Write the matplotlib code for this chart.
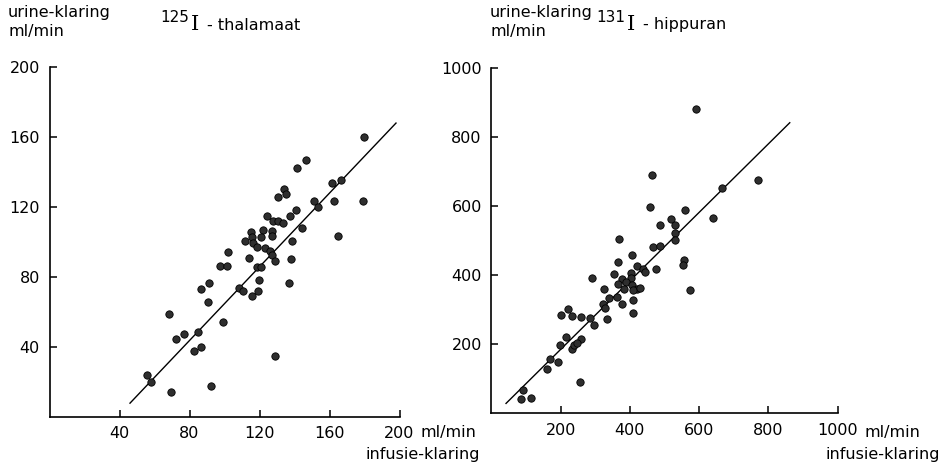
import matplotlib
matplotlib.use('Agg')
import matplotlib.pyplot as plt
import numpy as np

plt.rcParams['font.family'] = ['DejaVu Sans']

# 125I - thalamaat: infusie-klaring (x) vs urine-klaring (y), ml/min
thal_x = [179.5, 179.3, 146.4, 141.4, 166.8, 161.6, 162.4, 164.7, 151.1, 153.6,
          134.2, 135.0, 130.6, 140.7, 137.4, 124.5, 127.9, 130.7, 133.2, 144.1,
          122.2, 127.1, 127.1, 115.3, 120.7, 115.7, 111.9, 116.5, 118.4, 123.3,
          126.2, 127.0, 128.7, 138.6, 138.2, 137.0, 114.2, 118.4, 120.9, 119.5,
          101.8, 97.4, 101.4, 108.5, 110.4, 115.5, 119.1, 91.0, 86.6, 90.7,
          99.0, 68.3, 72.3, 76.7, 85.0, 82.4, 86.4, 128.7, 55.7, 58.0,
          69.6, 92.1]
thal_y = [160.0, 123.4, 146.7, 142.3, 135.3, 133.4, 123.4, 103.4, 123.4, 120.0,
          129.9, 127.3, 125.4, 118.1, 114.7, 114.5, 112.0, 112.0, 110.9, 108.0,
          106.7, 106.1, 103.3, 105.7, 102.5, 102.9, 100.6, 99.1, 96.8, 96.2,
          94.9, 92.4, 88.8, 100.4, 89.9, 76.2, 90.7, 85.7, 85.7, 78.1,
          94.1, 86.3, 86.3, 73.4, 71.8, 69.1, 71.7, 76.2, 72.8, 65.5,
          53.9, 58.5, 44.6, 47.4, 48.4, 37.4, 40.0, 34.9, 24.0, 20.0,
          14.1, 17.5]
thal_fit = (1.053, -40.7)
thal_fit_range = [46, 198]

# 131I - hippuran
hipp_x = [590, 771, 666, 465, 459, 559, 641, 520, 488, 529,
          529, 531, 467, 488, 368, 406, 366, 421, 439, 445,
          475, 555, 553, 573, 353, 403, 403, 376, 366, 390,
          407, 421, 410, 382, 324, 291, 410, 410, 363, 377,
          340, 321, 327, 334, 296, 284, 259, 234, 220, 201,
          215, 199, 233, 237, 259, 248, 169, 193, 159, 255,
          92, 85, 115, 428]
hipp_y = [880, 677, 654, 691, 597, 590, 567, 563, 545, 545,
          521, 501, 483, 485, 505, 460, 438, 427, 419, 408,
          418, 445, 429, 357, 403, 406, 391, 388, 376, 379,
          372, 360, 357, 359, 359, 393, 328, 292, 336, 318,
          333, 318, 304, 274, 255, 275, 280, 282, 301, 286,
          221, 199, 186, 197, 214, 204, 157, 148, 128, 92,
          68, 42, 45, 362]
hipp_fit = (0.991, -12.7)
hipp_fit_range = [42, 862]

W, H = 943, 466
fs = 11.5


def panel(rect, xs, ys, fit, fit_range, top, ticks):
    ax = fig.add_axes(rect)
    ax.scatter(xs, ys, s=28, c='#2e2e2e', edgecolors='black', linewidths=0.6,
               zorder=3, clip_on=False)
    fx = np.array(fit_range, dtype=float)
    ax.plot(fx, fit[0] * fx + fit[1], color='black', lw=1.0, zorder=2)
    ax.set_xlim(0, top)
    ax.set_ylim(0, top)
    ax.set_xticks(ticks)
    ax.set_yticks(ticks)
    ax.spines['top'].set_visible(False)
    ax.spines['right'].set_visible(False)
    for s in ('left', 'bottom'):
        ax.spines[s].set_linewidth(1.2)
    ax.tick_params(direction='in', length=5, width=1.1, labelsize=fs, pad=7)
    return ax


def title(x, iso, name):
    # isotope number raised, then a serif I, then the substance name
    fig.text(x / W, 1 - 18 / H, iso, ha='left', va='center', fontsize=fs - 0.5)
    xi = x + 31
    fig.text(xi / W, 1 - 25 / H, 'I', ha='left', va='center',
             fontsize=15, family='DejaVu Serif')
    fig.text((xi + 16) / W, 1 - 25 / H, '- ' + name, ha='left', va='center',
             fontsize=fs)


fig = plt.figure(figsize=(W / 100, H / 100), dpi=100)

ax1 = panel([49.5 / W, 1 - 416.7 / H, 350 / W, 350 / H],
            thal_x, thal_y, thal_fit, thal_fit_range, 200, [40, 80, 120, 160, 200])
ax2 = panel([491.5 / W, 1 - 413.4 / H, 346 / W, 345.4 / H],
            hipp_x, hipp_y, hipp_fit, hipp_fit_range, 1000, [200, 400, 600, 800, 1000])

fig.text(8 / W, 1 - 5 / H, 'urine-klaring\nml/min', ha='left', va='top',
         fontsize=fs, linespacing=1.3)
fig.text(490 / W, 1 - 5 / H, 'urine-klaring\nml/min', ha='left', va='top',
         fontsize=fs, linespacing=1.3)
title(160, '125', 'thalamaat')
title(596, '131', 'hippuran')

fig.text(421 / W, 1 - 432 / H, 'ml/min', ha='left', va='center', fontsize=fs)
fig.text(480 / W, 1 - 455 / H, 'infusie-klaring', ha='right', va='center', fontsize=fs)
fig.text(864 / W, 1 - 432 / H, 'ml/min', ha='left', va='center', fontsize=fs)
fig.text(940 / W, 1 - 455 / H, 'infusie-klaring', ha='right', va='center', fontsize=fs)

fig.savefig('out.png', dpi=100)
